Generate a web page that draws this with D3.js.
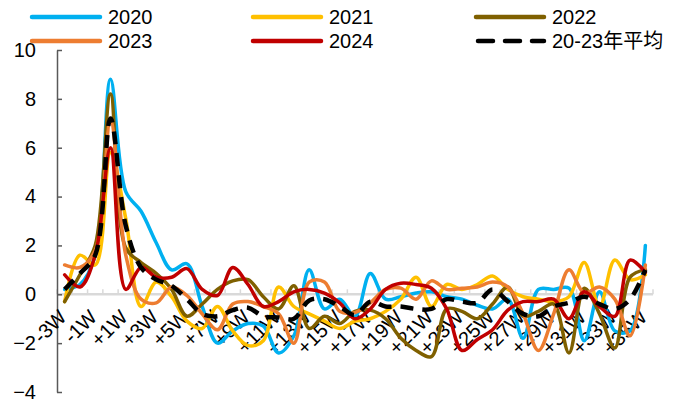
<!DOCTYPE html>
<html>
<head>
<meta charset="utf-8">
<script src="https://cdn.jsdelivr.net/npm/d3@7/dist/d3.min.js"></script>
<style>
  html, body { margin: 0; padding: 0; background: #fff; }
  svg { display: block; }
  text { font-family: "Liberation Sans", Arial, "Noto Sans CJK SC", sans-serif; fill: #000; }
</style>
</head>
<body>
<svg id="chart" width="686" height="408"></svg>
<script>
const categories = ["-3W","-2W","-1W","0W","+1W","+2W","+3W","+4W","+5W","+6W","+7W","+8W","+9W","+10W",
  "+11W","+12W","+13W","+14W","+15W","+16W","+17W","+18W","+19W","+20W","+21W","+22W","+23W","+24W",
  "+25W","+26W","+27W","+28W","+29W","+30W","+31W","+32W","+33W","+34W","+35W"];

const s2020 = [0.2,0.4,1.6,8.8,4.2,3.4,2.1,1.0,1.25,-0.5,-2.0,-1.5,-1.2,-1.3,-2.4,-1.7,1.0,-0.6,-0.2,-0.9,0.85,-0.2,-0.1,0.05,0.1,-0.1,-0.2,-0.45,-0.6,-0.2,-1.8,0.2,0.2,0.25,-1.9,0.1,-1.5,-1.5,2.0];
const s2021 = [-0.3,1.6,1.2,5.8,3.1,-0.5,0.5,-0.1,-1.1,-1.4,-0.5,-1.5,-2.1,-1.9,0.3,-0.5,-0.8,-1.1,-1.4,-1.1,-1.0,-0.7,-0.2,0.7,-0.5,0.4,0.2,0.4,0.75,0.2,-0.1,-0.2,-0.3,-0.1,1.3,-0.5,1.4,0.6,0.8];
const s2022 = [-0.3,0.8,2.0,8.2,1.9,1.3,0.85,0.2,-0.9,-0.4,0.2,0.55,0.6,-0.1,-0.6,0.35,-1.4,-0.9,-1.2,-0.7,-0.65,-1.0,-1.8,-2.3,-2.55,-0.6,-0.7,-1.0,-0.4,0.3,-0.9,-0.7,-0.4,-2.4,0.25,-0.8,-2.2,0.7,1.0];
const s2023 = [1.2,1.1,1.8,7.1,1.6,-0.2,-0.35,0.3,-0.05,-0.8,-1.45,-0.4,-0.3,-0.5,-0.8,-2.0,0.5,0.5,-0.7,-0.75,-0.35,0.2,0.25,-0.2,0.55,0.2,0.25,0.3,0.5,0.3,-0.8,-2.3,-0.8,1.0,0.05,0.3,-0.2,-1.7,1.2];
const s2024 = [0.8,0.3,1.6,6.0,0.2,1.1,0.7,0.7,1.05,0.2,-0.05,1.1,0.4,-0.5,-0.3,0.1,0.2,0.05,-0.35,-1.0,-0.6,0.2,0.45,0.4,0.25,-0.6,-2.3,-1.85,-1.45,-0.65,-0.3,-0.3,-0.2,-1.0,0.1,-0.5,-0.9,1.4,0.9];
const sAvg  = [0.2,0.85,1.6,7.2,2.8,1.1,0.6,0.35,-0.2,-0.8,-0.9,-0.65,-0.55,-0.9,-0.95,-1.0,-0.25,-0.2,-0.5,-0.85,-0.3,-0.5,-0.5,-0.6,-0.6,-0.2,-0.3,-0.35,0.2,-0.3,-0.8,-0.9,-0.5,-0.35,-0.1,-0.4,-0.6,-0.2,1.0];

const seriesNames = ["2020","2021","2022","2023","2024","20-23年平均"];
const seriesValues = [s2020, s2021, s2022, s2023, s2024, sAvg];
const seriesColors = ["#00B0F0","#FFC000","#7F6000","#ED7D31","#C00000","#000000"];
const yTicks = [-4,-2,0,2,4,6,8,10];

const svg = d3.select("#chart");
const FONT = 20;

const x = d3.scalePoint().domain(categories).range([57, 653]).padding(0.5);
const y = d3.scaleLinear().domain([-4, 10]).range([392, 50]);
const step = x.step();

// zero line with category tick marks
const zeroY = y(0);
svg.append("line")
  .attr("x1", 57).attr("x2", 653).attr("y1", zeroY).attr("y2", zeroY)
  .attr("stroke", "#d9d9d9").attr("stroke-width", 2.5);
const bounds = categories.map(c => x(c) - step / 2).concat([x(categories[categories.length - 1]) + step / 2]);
svg.append("g").selectAll("line").data(bounds).join("line")
  .attr("x1", d => d).attr("x2", d => d)
  .attr("y1", zeroY).attr("y2", zeroY - 5)
  .attr("stroke", "#d9d9d9").attr("stroke-width", 1.5);

// y axis
const yAxis = d3.axisLeft(y).tickValues(yTicks).tickSize(-5).tickSizeOuter(0).tickPadding(21);
const gy = svg.append("g").attr("transform", "translate(57,0)").call(yAxis);
gy.select(".domain").attr("stroke", "#595959").attr("stroke-width", 1.5);
gy.selectAll(".tick line").attr("stroke", "#595959").attr("stroke-width", 1.5);
gy.selectAll(".tick text").attr("font-size", FONT).attr("fill", "#000")
  .style("font-family", "'Liberation Sans', Arial, sans-serif");

// x labels (every other category)
svg.append("g").selectAll("text")
  .data(categories.filter((c, i) => i % 2 === 0))
  .join("text")
  .attr("transform", d => `translate(${x(d) + 3},${zeroY + 24}) rotate(-45)`)
  .attr("text-anchor", "end")
  .attr("font-size", FONT)
  .text(d => d);

// series lines
const line = d3.line()
  .x((d, i) => x(categories[i]))
  .y(d => y(d))
  .curve(d3.curveCatmullRom.alpha(0.5));

seriesValues.forEach((vals, k) => {
  const p = svg.append("path")
    .datum(vals)
    .attr("d", line)
    .attr("fill", "none")
    .attr("stroke", seriesColors[k])
    .attr("stroke-width", k === 5 ? 4.5 : 3.5)
    .attr("stroke-linejoin", "round")
    .attr("stroke-linecap", "round");
  if (k === 5) p.attr("stroke-dasharray", "13,9").attr("stroke-linecap", "butt");
});

// legend
const legX = [32, 253, 476];
const legY = [17, 41];
seriesNames.forEach((name, k) => {
  const col = k % 3, row = Math.floor(k / 3);
  const g = svg.append("g");
  const ln = g.append("line")
    .attr("x1", legX[col]).attr("x2", legX[col] + 68)
    .attr("y1", legY[row]).attr("y2", legY[row])
    .attr("stroke", seriesColors[k])
    .attr("stroke-width", 4.5)
    .attr("stroke-linecap", "round");
  if (k === 5) ln.attr("stroke-dasharray", "15,12").attr("stroke-linecap", "round").attr("x1", legX[col] + 2);
  g.append("text")
    .attr("x", legX[col] + 76).attr("y", legY[row])
    .attr("dy", "0.35em")
    .attr("font-size", FONT)
    .text(name);
});
</script>
</body>
</html>
